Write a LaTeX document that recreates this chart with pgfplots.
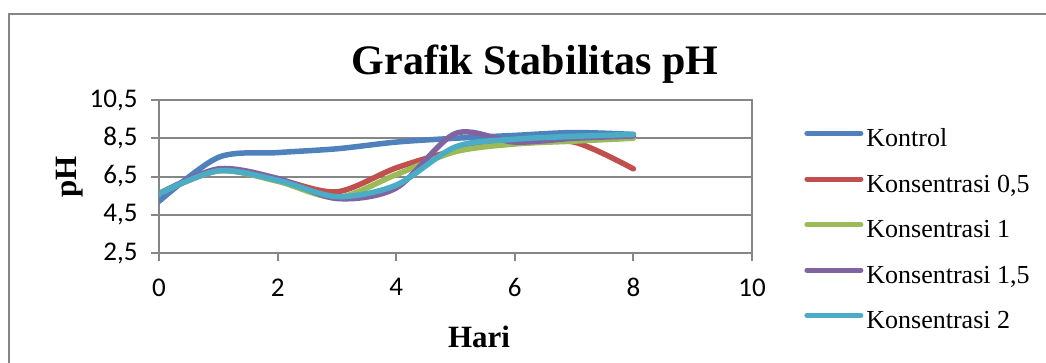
\documentclass[border=0pt]{standalone}
\usepackage{pgfplots}
\pgfplotsset{compat=1.18}
\usepackage{fontspec}
\setmainfont{Liberation Serif}
\newfontfamily\carlito{Carlito}

\definecolor{cKontrol}{HTML}{4F81BD}
\definecolor{cKa}{HTML}{C0504D}
\definecolor{cKb}{HTML}{9BBB59}
\definecolor{cKc}{HTML}{8064A2}
\definecolor{cKd}{HTML}{4BACC6}
\definecolor{gridgray}{HTML}{868686}

\begin{document}
\begin{tikzpicture}[x=1pt,y=1pt]
\useasboundingbox (0,0) rectangle (1046,362);
% outer chart frame
\draw[gridgray, line width=2pt] (9,-10) -- (9,348) -- (1060,348);

\begin{axis}[
  at={(159pt,109pt)}, anchor=south west,
  scale only axis, width=593pt, height=153pt,
  xmin=0, xmax=10, ymin=2.5, ymax=10.5,
  xtick={0,2,4,6,8,10}, xticklabels={0,2,4,6,8,10},
  ytick={2.5,4.5,6.5,8.5,10.5},
  yticklabels={{2,5},{4,5},{6,5},{8,5},{10,5}},
  xtick pos=left, ytick pos=left,
  tick align=outside, major tick length=8pt,
  every tick/.style={gridgray, line width=2pt},
  axis line style={gridgray, line width=2pt},
  ymajorgrids, grid style={gridgray, line width=2pt},
  ticklabel style={font=\carlito\fontsize{27}{32}\selectfont, text=black},
  xticklabel style={yshift=-14pt},
  yticklabel style={xshift=-10pt},
  legend style={at={(1.088,0.815)}, anchor=north west, draw=none, fill=none,
    font=\fontsize{26}{30}\selectfont, row sep=21.5pt, inner sep=0pt,
    nodes={inner sep=0pt, text height=18pt, text depth=6pt},
    /tikz/every odd column/.style={column sep=3pt}},
  legend cell align=left,
  legend image code/.code={\draw[#1, line width=5pt, line cap=round] (0pt,7pt) -- (54pt,7pt);},
  every axis plot/.append style={line width=5.5pt, smooth, line cap=round, line join=round},
]
\addplot[cKontrol] coordinates {(0,5.2) (1,7.5) (2,7.75) (3,7.95) (4,8.3) (5,8.5) (6,8.65) (7,8.8) (8,8.7)};
\addlegendentry{Kontrol}
\addplot[cKa] coordinates {(0,5.6) (1,6.8) (2,6.35) (3,5.7) (4,6.95) (5,7.85) (6,8.25) (7,8.3) (8,6.9)};
\addlegendentry{Konsentrasi 0,5}
\addplot[cKb] coordinates {(0,5.6) (1,6.8) (2,6.25) (3,5.4) (4,6.6) (5,7.8) (6,8.2) (7,8.35) (8,8.5)};
\addlegendentry{Konsentrasi 1}
\addplot[cKc] coordinates {(0,5.6) (1,6.9) (2,6.4) (3,5.35) (4,5.9) (5,8.75) (6,8.3) (7,8.5) (8,8.62)};
\addlegendentry{Konsentrasi 1,5}
\addplot[cKd] coordinates {(0,5.6) (1,6.8) (2,6.3) (3,5.45) (4,6.05) (5,8.05) (6,8.45) (7,8.6) (8,8.7)};
\addlegendentry{Konsentrasi 2}
\end{axis}

% titles
\node[anchor=base, font=\bfseries\fontsize{42}{50}\selectfont] at (535,287) {Grafik Stabilitas pH};
\node[anchor=base, font=\bfseries\fontsize{31}{36}\selectfont] at (479,15) {Hari};
\node[rotate=90, font=\bfseries\fontsize{31}{36}\selectfont] at (70,185) {pH};
\end{tikzpicture}
\end{document}
